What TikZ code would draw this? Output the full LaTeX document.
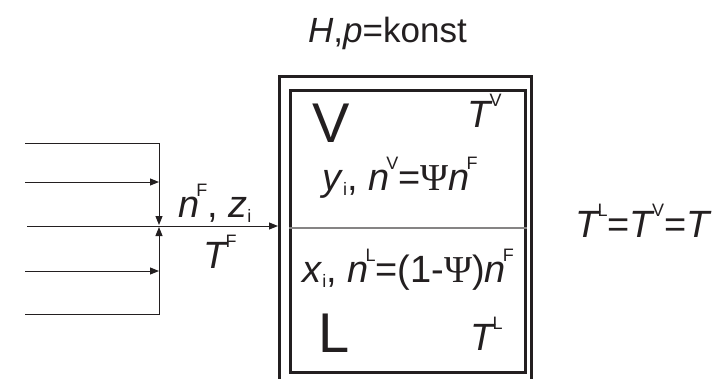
\documentclass[tikz,border=0pt]{standalone}
\usepackage{fontspec}
\setmainfont{Liberation Sans}
\newfontfamily\greekfont{Liberation Serif}
\usetikzlibrary{arrows.meta}
\definecolor{ink}{HTML}{231F20}
\newcommand{\hi}[1]{\kern-0.08em\raisebox{0.55em}{\fontsize{18}{18}\selectfont #1}}
\newcommand{\lo}[1]{\raisebox{-0.15em}{\fontsize{18}{18}\selectfont #1}}

\begin{document}
\begin{tikzpicture}[x=1pt, y=-1pt,
    every node/.style={inner sep=0pt, text=ink, font=\fontsize{38}{40}\selectfont},
    wall/.style={draw=ink, line width=3pt},
    flow/.style={draw=ink, line width=1pt},
    tip/.style={-{Triangle[length=9pt,width=7pt]}},
    big/.style={font=\fontsize{56}{60}\selectfont}
]
\useasboundingbox (0,0) rectangle (717,378);
% flash drum
\draw[wall] (279.5,380) |- (531.5,76.5) -- (531.5,380);
\node[wall, minimum width=234.5pt, minimum height=282.5pt, anchor=north west] (drum) at (289,88.5) {};
\draw[draw=ink!55, line width=2pt] (drum.west |- 0,228) -- (drum.east |- 0,228);
\coordinate (inlet) at (278,226);
% feed streams
\coordinate (mix) at (159,226);
\coordinate (in1) at (25,143);
\coordinate (in2) at (25,182);
\coordinate (in0) at (27,226);
\coordinate (in3) at (25,271);
\coordinate (in4) at (25,314);
\draw[flow, tip] (in1) -| ([yshift=1pt]mix);
\draw[flow, tip] (in2) -- (in2 -| mix);
\draw[flow, tip] (in0) -- (inlet);
\draw[flow, tip] (in3) -- (in3 -| mix);
\draw[flow, tip] (in4) -| ([yshift=-1pt]mix);
% labels
\node[anchor=base west, font=\fontsize{35}{38}\selectfont] (title) at (308,42) {\textit{H},\textit{p}=konst};
\node[anchor=base west] (feed) at (178,217) {\textit{n}\hi{F}, \textit{z}\lo{i}};
\node[anchor=base west] (feedT) at (203,268) {\textit{T}\hi{F}};
\node[big, anchor=base west] (vap) at (312,142) {V};
\node[anchor=base west] (vapT) at (467,127) {\textit{T}\hi{V}};
\node[anchor=base west] (vapcomp) at (322,190) {\textit{y}\lo{i}, \textit{n}\hi{V}={\greekfont Ψ}\textit{n}\hi{F}};
\node[anchor=base west] (liqcomp) at (302,282) {\textit{x}\lo{i}, \textit{n}\hi{L}=(1-{\greekfont Ψ})\textit{n}\hi{F}};
\node[big, anchor=base west] (liq) at (318,352) {L};
\node[anchor=base west] (liqT) at (470,350) {\textit{T}\hi{L}};
\node[anchor=base west] (equal) at (575,237) {\textit{T}\hi{L}=\textit{T}\hi{V}=\textit{T}};
\end{tikzpicture}
\end{document}
